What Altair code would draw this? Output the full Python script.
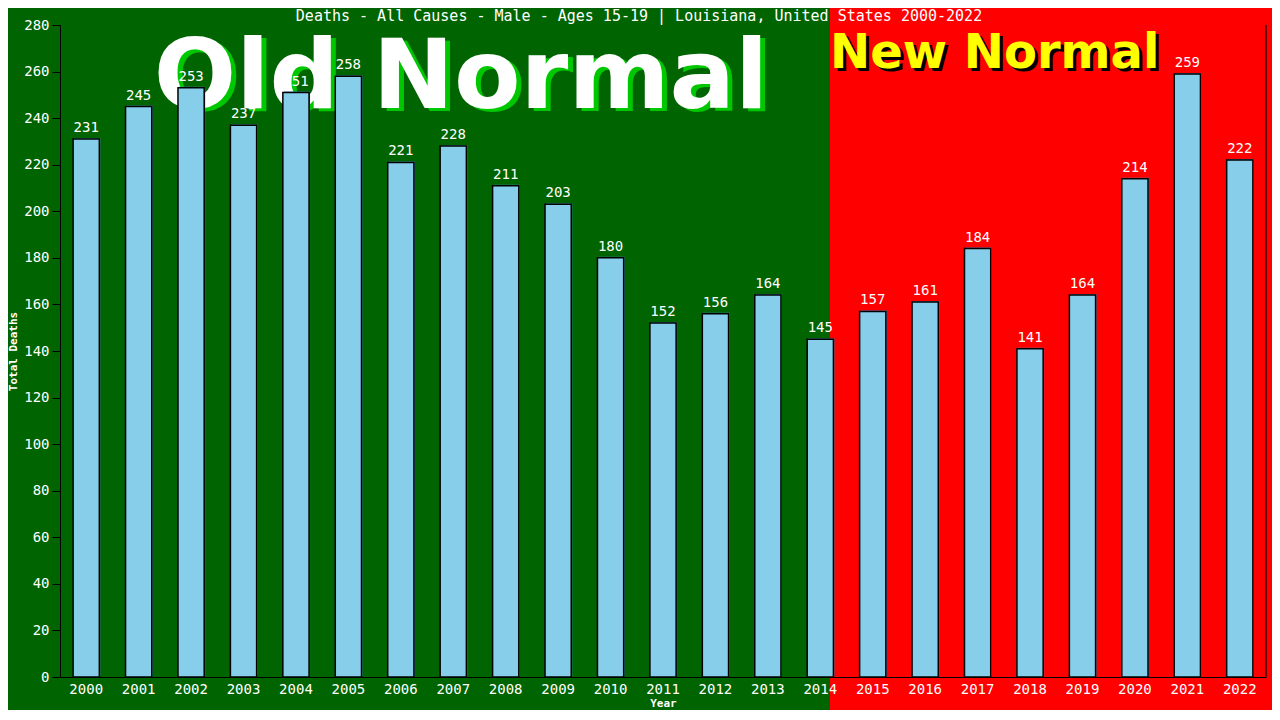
import altair as alt
import pandas as pd

years = [str(y) for y in range(2000, 2023)]
deaths = [231, 245, 253, 237, 251, 258, 221, 228, 211, 203, 180, 152, 156,
          164, 145, 157, 161, 184, 141, 164, 214, 259, 222]
y_ticks = list(range(0, 281, 20))
title_text = "Deaths - All Causes - Male - Ages 15-19 | Louisiana, United States 2000-2022"

df = pd.DataFrame({"Year": years, "Deaths": deaths})

W, H = 1206, 652
MONO = "DejaVu Sans Mono"

xenc = alt.X("Year:N", sort=years,
             scale=alt.Scale(paddingInner=0.5, paddingOuter=0.25),
             axis=alt.Axis(title="Year", labelAngle=0, ticks=False,
                           labelColor="white", labelFont=MONO, labelFontSize=14,
                           labelPadding=5, titleColor="white", titleFont=MONO,
                           titleFontSize=11, titleFontWeight="bold", titlePadding=1,
                           domainColor="black", zindex=2))
yscale = alt.Scale(domain=[0, 280], nice=False)
yenc = alt.Y("Deaths:Q", scale=yscale,
             axis=alt.Axis(title="Total Deaths", values=y_ticks, grid=False,
                           labelColor="white", labelFont=MONO, labelFontSize=14,
                           labelPadding=3, tickColor="black", tickSize=8,
                           domainColor="black", titleColor="white", titleFont=MONO,
                           titleFontSize=11, titleFontWeight="bold", titlePadding=5,
                           zindex=2))

base = alt.Chart(df)
one = "datum.Year == '2000'"

red_bg = base.mark_rect(color="#ff0000").encode(
    x=alt.value(770), x2=alt.value(1300), y=alt.value(-40), y2=alt.value(720)
).transform_filter(one)

title_mark = base.mark_text(text=title_text, font=MONO, fontSize=15, color="white",
                            align="center", baseline="alphabetic").encode(
    x=alt.value(579), y=alt.value(-4)).transform_filter(one)

old_shadow = base.mark_text(text="Old Normal", font="DejaVu Sans", fontWeight="bold",
                            fontSize=97, color="#00c800", align="center",
                            baseline="alphabetic").encode(
    x=alt.value(406), y=alt.value(86)).transform_filter(one)
old_text = base.mark_text(text="Old Normal", font="DejaVu Sans", fontWeight="bold",
                          fontSize=97, color="white", align="center",
                          baseline="alphabetic").encode(
    x=alt.value(401), y=alt.value(83)).transform_filter(one)

new_shadow = base.mark_text(text="New Normal", font="DejaVu Sans", fontWeight="bold",
                            fontSize=48, color="black", align="left",
                            baseline="alphabetic").encode(
    x=alt.value(773), y=alt.value(46)).transform_filter(one)
new_text = base.mark_text(text="New Normal", font="DejaVu Sans", fontWeight="bold",
                          fontSize=48, color="#ffff00", align="left",
                          baseline="alphabetic").encode(
    x=alt.value(770), y=alt.value(43)).transform_filter(one)

shadow_bars = base.mark_bar(color="#4682b4", xOffset=1, yOffset=-1).encode(x=xenc, y=yenc)
bars = base.mark_bar(color="#87ceeb", stroke="black", strokeWidth=1.5).encode(x=xenc, y=yenc)

labels = base.mark_text(color="white", font=MONO, fontSize=14, baseline="bottom",
                        dy=-4).encode(x=xenc, y=yenc, text="Deaths:Q")

right_line = base.mark_rule(color="black", strokeWidth=1.2).encode(
    x=alt.value(W), y=alt.value(0), y2=alt.value(H)
).transform_filter(one)

chart = alt.layer(red_bg, title_mark, old_shadow, old_text, new_shadow, new_text,
                  shadow_bars, bars, labels, right_line).properties(
    width=W, height=H,
    background="#006400",
    autosize=alt.AutoSizeParams(type="none"),
    padding={"left": 52, "top": 17, "right": 6, "bottom": 33},
).configure_view(stroke=None, fill=None)

chart.save("out.html", embed_options={"renderer": "svg", "actions": False})
